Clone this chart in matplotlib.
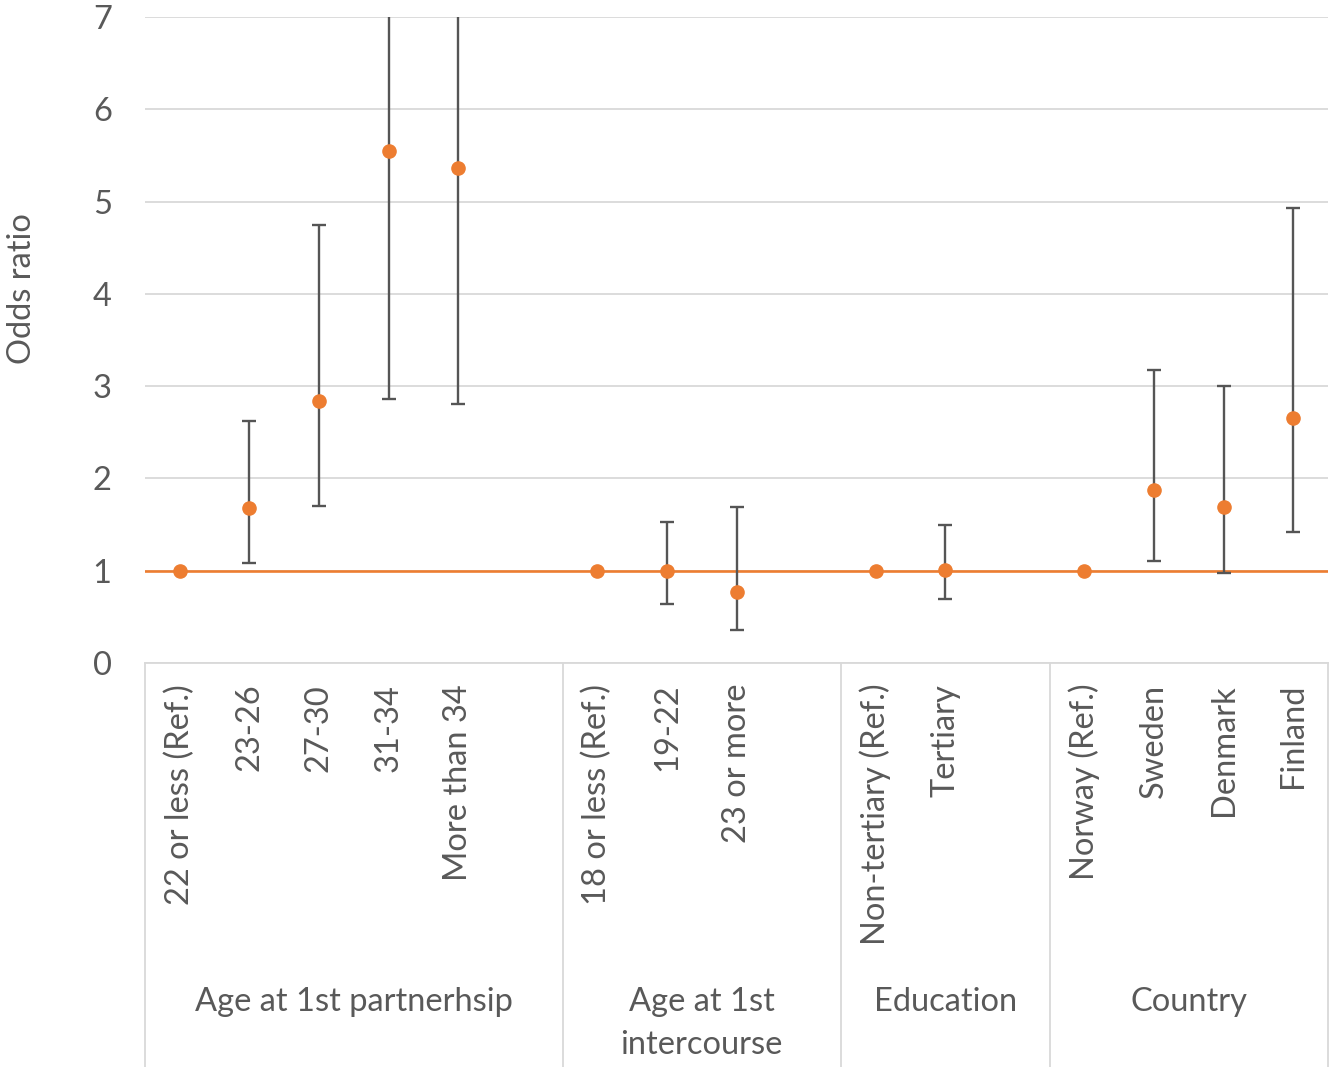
import numpy as np
import matplotlib.pyplot as plt
from matplotlib.transforms import blended_transform_factory

# Data (odds ratios with 95% CI)
groups = ['Age at 1st partnerhsip', 'Age at 1st\nintercourse', 'Education', 'Country']

partner_labels = ['22 or less (Ref.)', '23-26', '27-30', '31-34', 'More than 34']
partner_or = [1.0, 1.68, 2.84, 5.55, 5.36]
partner_lo = [np.nan, 1.08, 1.70, 2.86, 2.81]
partner_hi = [np.nan, 2.62, 4.75, 11.0, 10.5]

inter_labels = ['18 or less (Ref.)', '19-22', '23 or more']
inter_or = [1.0, 1.0, 0.77]
inter_lo = [np.nan, 0.64, 0.36]
inter_hi = [np.nan, 1.53, 1.69]

edu_labels = ['Non-tertiary (Ref.)', 'Tertiary']
edu_or = [1.0, 1.01]
edu_lo = [np.nan, 0.69]
edu_hi = [np.nan, 1.50]

country_labels = ['Norway (Ref.)', 'Sweden', 'Denmark', 'Finland']
country_or = [1.0, 1.87, 1.69, 2.66]
country_lo = [np.nan, 1.10, 0.97, 1.42]
country_hi = [np.nan, 3.17, 3.00, 4.93]

all_labels = [partner_labels, inter_labels, edu_labels, country_labels]
all_or = [partner_or, inter_or, edu_or, country_or]
all_lo = [partner_lo, inter_lo, edu_lo, country_lo]
all_hi = [partner_hi, inter_hi, edu_hi, country_hi]

orange = '#ED7D31'
grey_txt = '#595959'
fs = 23.5
plt.rcParams['font.family'] = ['Lato', 'DejaVu Sans']

W, H = 1332, 1067
fig = plt.figure(figsize=(W / 100, H / 100), dpi=100)
ax = fig.add_axes([145 / W, 1 - 663 / H, (1328 - 145) / W, (663 - 17) / H])

# positions: each group followed by one empty slot (except the last)
xs, labs, ors, los, his = [], [], [], [], []
edges = [0]
pos = 0
for gi in range(len(groups)):
    for j in range(len(all_labels[gi])):
        xs.append(pos)
        labs.append(all_labels[gi][j])
        ors.append(all_or[gi][j])
        los.append(all_lo[gi][j])
        his.append(all_hi[gi][j])
        pos += 1
    if gi < len(groups) - 1:
        pos += 1
    edges.append(pos)
xs = np.array(xs); ors = np.array(ors); los = np.array(los); his = np.array(his)
nslots = pos

ax.set_xlim(-0.5, nslots - 0.5)
ax.set_ylim(0, 7)

ax.set_yticks(range(8))
ax.grid(axis='y', color='#D9D9D9', linewidth=1.3)
ax.set_axisbelow(True)
for s in ['left', 'right', 'top']:
    ax.spines[s].set_visible(False)
ax.spines['bottom'].set_color('#D9D9D9')
ax.spines['bottom'].set_linewidth(1.3)
ax.tick_params(axis='y', length=0, pad=24, labelsize=fs, labelcolor=grey_txt)

# reference line at 1
ax.axhline(1, color=orange, linewidth=1.9, zorder=2)

mask = ~np.isnan(los)
ax.errorbar(xs[mask], ors[mask], yerr=[ors[mask] - los[mask], his[mask] - ors[mask]],
            fmt='none', ecolor='#555555', elinewidth=1.7, capsize=5, capthick=1.7, zorder=3)
ax.plot(xs, ors, 'o', color=orange, markersize=9.5, zorder=4, linestyle='none')

ax.set_xticks(xs)
ax.set_xticklabels(labs, rotation=90, va='top', ha='center')
ax.tick_params(axis='x', length=0, pad=15, labelsize=fs, labelcolor=grey_txt)

# group separators and group labels under the axis
trans = blended_transform_factory(ax.transData, fig.transFigure)
for e in edges:
    ax.plot([e - 0.5, e - 0.5], [1 - 663 / H, 0], transform=trans, color='#D9D9D9',
            linewidth=1.3, clip_on=False)
for gi, g in enumerate(groups):
    mid = (edges[gi] + edges[gi + 1]) / 2 - 0.5
    fig.text(mid, 1 - 987 / H, g, transform=trans, ha='center', va='top', fontsize=fs,
             color=grey_txt, linespacing=1.55)

fig.text(22 / W, 1 - 289 / H, 'Odds ratio', rotation=90, ha='center', va='center',
         fontsize=fs, color=grey_txt)

fig.savefig('out.png', dpi=100)
